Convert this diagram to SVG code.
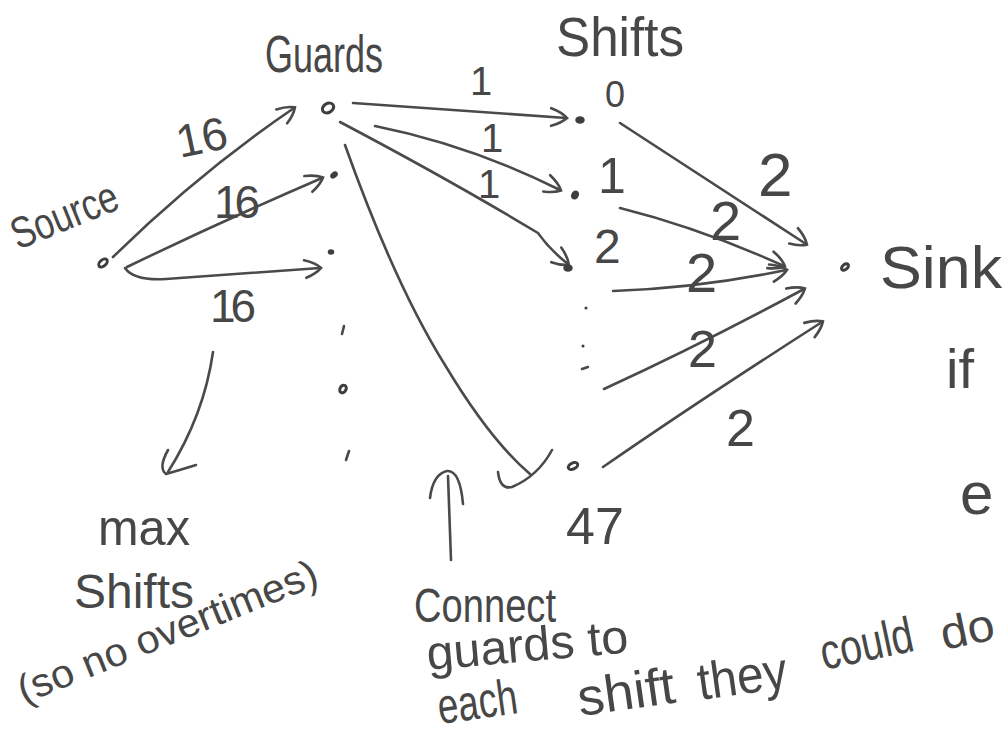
<svg xmlns="http://www.w3.org/2000/svg" width="1005" height="740" viewBox="0 0 1005 740">
  <style>
    .ink { fill: none; stroke: #4a4a4a; stroke-width: 2.6; stroke-linecap: round; stroke-linejoin: round; }
    .dot { fill: #3e3e3e; stroke: #3e3e3e; stroke-width: 1.5; }
    .ring { fill: none; stroke: #3e3e3e; stroke-width: 3; }
    .lbl { font-family: "Liberation Sans", "DejaVu Sans", sans-serif; fill: #474747; }
    .big { font-size: 48px; }
    .num { font-size: 46px; }
    .one { font-size: 40px; }
  </style>
  <defs>
    <marker id="head" viewBox="0 0 20 20" refX="16" refY="10" markerWidth="22" markerHeight="22" markerUnits="userSpaceOnUse" orient="auto">
      <path d="M2,2 Q12,5 17,10 Q12,15 3,18" fill="none" stroke="#4a4a4a" stroke-width="2.4" stroke-linecap="round"/>
    </marker>
  </defs>
  <rect width="1005" height="740" fill="#ffffff"/>

  <!-- column headings -->
  <text class="lbl" x="265" y="72" font-size="52" textLength="118" lengthAdjust="spacingAndGlyphs">Guards</text>
  <text class="lbl" x="556" y="56" font-size="56" textLength="128" lengthAdjust="spacingAndGlyphs">Shifts</text>

  <!-- connectors -->
  <g id="connectors">
    <!-- source to guards -->
    <path class="ink" d="M113,257 Q200,172 294,108" marker-end="url(#head)"/>
    <path class="ink" d="M127,267 Q220,222 322,178" marker-end="url(#head)"/>
    <path class="ink" d="M125,268 Q134,281 166,279 L320,268" marker-end="url(#head)"/>
    <!-- guard to shifts -->
    <path class="ink" d="M353,103 Q450,110 566,118" marker-end="url(#head)"/>
    <path class="ink" d="M375,126 Q470,145 560,190" marker-end="url(#head)"/>
    <path class="ink" d="M340,122 Q450,180 538,233 Q550,250 568,264" marker-end="url(#head)"/>
    <path class="ink" d="M345,145 Q395,285 445,365 Q490,440 530,474"/>
    <path class="ink" d="M498,472 Q500,490 512,487 Q538,476 552,450"/>
    <!-- shifts to sink -->
    <path class="ink" d="M620,123 L806,244" marker-end="url(#head)"/>
    <path class="ink" d="M620,208 Q700,228 784,266" marker-end="url(#head)"/>
    <path class="ink" d="M613,291 Q700,288 786,270" marker-end="url(#head)"/>
    <path class="ink" d="M604,389 Q700,345 804,289" marker-end="url(#head)"/>
    <path class="ink" d="M603,467 Q700,400 822,322" marker-end="url(#head)"/>
    <!-- note pointers -->
    <path class="ink" d="M213,352 Q204,415 168,472"/>
    <path class="ink" d="M168,450 Q158,468 166,474 Q180,470 196,465"/>
    <path class="ink" d="M451,560 L448,476"/>
    <path class="ink" d="M430,498 Q433,474 447,471 Q460,470 463,504"/>
  </g>

  <!-- source node -->
  <g id="source">
    <ellipse class="ring" cx="103" cy="263" rx="5" ry="3" transform="rotate(-40 103 263)"/>
    <text class="lbl" font-size="44" transform="translate(18,250) rotate(-22)" textLength="112" lengthAdjust="spacingAndGlyphs">Source</text>
  </g>

  <!-- guard nodes -->
  <g id="guard-1">
    <ellipse class="ring" cx="328" cy="108" rx="6" ry="4.5" transform="rotate(-30 328 108)"/>
    <text class="lbl num" transform="translate(180,158) rotate(-12)">16</text>
  </g>
  <g id="guard-2">
    <ellipse class="dot" cx="334" cy="175" rx="3.5" ry="2.2" transform="rotate(-40 334 175)"/>
    <text class="lbl num" x="214" y="218" textLength="46">16</text>
  </g>
  <g id="guard-3">
    <ellipse class="dot" cx="331" cy="252" rx="2.5" ry="2" />
    <text class="lbl num" x="210" y="322" textLength="46">16</text>
  </g>
  <g id="guard-more">
    <path class="ink" d="M344,326 L342,334"/>
    <ellipse class="ring" cx="343" cy="389" rx="4" ry="3" stroke-width="2" transform="rotate(-60 343 389)"/>
    <path class="ink" d="M349,451 L346,460"/>
  </g>

  <!-- shift nodes -->
  <g id="shift-0">
    <ellipse class="dot" cx="580" cy="120" rx="4" ry="3"/>
    <text class="lbl" font-size="36" x="605" y="107">0</text>
    <text class="lbl one" x="470" y="95">1</text>
  </g>
  <g id="shift-1">
    <ellipse class="dot" cx="575" cy="195" rx="3" ry="4" transform="rotate(30 575 195)"/>
    <text class="lbl" font-size="50" x="598" y="193">1</text>
    <text class="lbl one" x="481" y="152">1</text>
  </g>
  <g id="shift-2">
    <ellipse class="dot" cx="568" cy="268" rx="4" ry="3"/>
    <text class="lbl" font-size="48" x="594" y="263">2</text>
    <text class="lbl one" x="478" y="198">1</text>
  </g>
  <g id="shift-more">
    <circle class="dot" cx="586" cy="308" r="0.8"/>
    <circle class="dot" cx="583" cy="346" r="0.8"/>
    <path class="ink" d="M582,369 L588,367" stroke-width="2"/>
  </g>
  <g id="shift-47">
    <ellipse class="ring" cx="573" cy="466" rx="5" ry="3" transform="rotate(-25 573 466)"/>
    <text class="lbl" font-size="52" x="566" y="544">47</text>
  </g>

  <!-- edge capacities into sink -->
  <g id="sink-capacities">
    <text class="lbl" font-size="62" x="758" y="196">2</text>
    <text class="lbl" font-size="56" x="710" y="240">2</text>
    <text class="lbl" font-size="56" x="686" y="292">2</text>
    <text class="lbl" font-size="52" x="688" y="367">2</text>
    <text class="lbl" font-size="52" x="726" y="446">2</text>
  </g>

  <!-- sink node -->
  <g id="sink">
    <ellipse class="ring" cx="845" cy="267" rx="4" ry="2.5" stroke-width="2.2" transform="rotate(-40 845 267)"/>
    <text class="lbl" x="880" y="288" font-size="60" textLength="122" lengthAdjust="spacingAndGlyphs">Sink</text>
  </g>

  <!-- side notes -->
  <g id="notes">
    <text class="lbl" font-size="56" x="946" y="388">if</text>
    <text class="lbl" font-size="60" x="960" y="514">e</text>
    <text class="lbl" font-size="50" x="98" y="545" textLength="92" lengthAdjust="spacingAndGlyphs">max</text>
    <text class="lbl big" x="74" y="608" textLength="120" lengthAdjust="spacingAndGlyphs">Shifts</text>
    <text class="lbl" font-size="40" transform="translate(24,704) rotate(-22)" textLength="320" lengthAdjust="spacingAndGlyphs">(so no overtimes)</text>
    <text class="lbl big" x="414" y="622" textLength="142" lengthAdjust="spacingAndGlyphs">Connect</text>
    <text class="lbl big" transform="translate(428,670) rotate(-5)" textLength="202" lengthAdjust="spacingAndGlyphs">guards to</text>
    <text class="lbl" font-size="50" transform="translate(440,724) rotate(-8)" textLength="80" lengthAdjust="spacingAndGlyphs">each</text>
    <text class="lbl" font-size="52" transform="translate(580,716) rotate(-8)" textLength="98" lengthAdjust="spacingAndGlyphs">shift</text>
    <text class="lbl" font-size="52" transform="translate(700,700) rotate(-8)" textLength="90" lengthAdjust="spacingAndGlyphs">they</text>
    <text class="lbl" font-size="50" transform="translate(824,670) rotate(-12)" textLength="94" lengthAdjust="spacingAndGlyphs">could</text>
    <text class="lbl" font-size="46" transform="translate(944,650) rotate(-12)" textLength="54" lengthAdjust="spacingAndGlyphs">do</text>
  </g>
</svg>
